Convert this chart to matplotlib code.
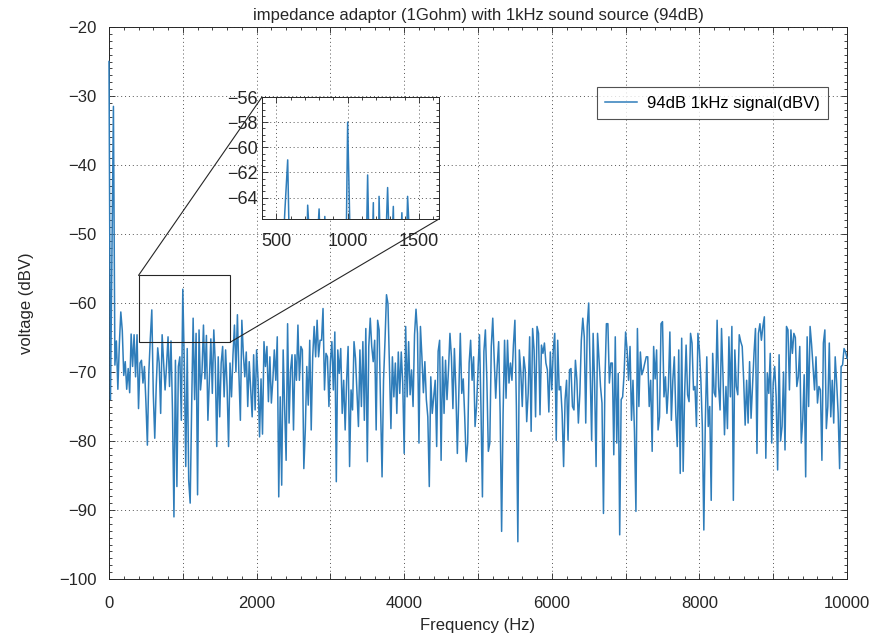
import numpy as np
import matplotlib
matplotlib.use("Agg")
import matplotlib.pyplot as plt
from matplotlib.patches import Rectangle, ConnectionPatch
from matplotlib.ticker import MultipleLocator, FuncFormatter

plt.rcParams['font.family'] = ['Liberation Sans', 'DejaVu Sans']

# frequency grid step (Hz) and spectrum values (dBV)
freq_start = 0
freq_step = 20
level_dbv = [
    # 0 - 980 Hz
    -25, -74, -52, -31.5, -69, -65.5, -72.5, -66, -61.3, -64,
    -70.5, -68.5, -72.5, -69.5, -73, -64.5, -69.2, -64.6, -70.7, -64.6,
    -75.3, -68.7, -68.3, -71.6, -69.2, -74.3, -80.6, -70, -65.1, -61,
    -73.1, -79.6, -72, -66.5, -68.7, -76, -64.6, -68.7, -72.6, -69,
    -64.9, -72.1, -65.5, -75.5, -91, -68.3, -86.6, -69.2, -67.8, -77,
    # 1000 - 1980 Hz
    -58, -68.7, -83.7, -66.6, -85.7, -89, -75, -62.2, -74, -64.4,
    -87.8, -63.9, -72.6, -70, -63.2, -71, -64.7, -77, -71.2, -65.2,
    -73.1, -63.9, -68.7, -80.8, -67.8, -76.5, -68.7, -66.3, -73.6, -66.8,
    -72.1, -80.8, -68.7, -73.6, -67.5, -63.2, -70, -61.7, -70.2, -77,
    -62.5, -67.3, -70.7, -67.1, -75, -68.5, -72.6, -76.5, -67.5, -75.5,
    # 2000 - 2980 Hz
    -66.8, -71.2, -79.4, -71, -79, -65.6, -69.2, -66.3, -74.3, -67.8,
    -74.5, -71.2, -66.8, -71.2, -64.9, -88.1, -73.6, -86.4, -66.8, -75.3,
    -82.8, -63, -77.4, -69.7, -67.5, -78.4, -67.5, -71.2, -63.2, -71.2,
    -66.3, -66.8, -84, -78.4, -69.2, -74.8, -65.4, -78.4, -67.8, -63.4,
    -67.8, -62.5, -67.8, -65.4, -65.4, -60.8, -72.6, -67.3, -67.8, -75,
    # 3000 - 3980 Hz
    -68.5, -65.6, -72.6, -64.2, -85.9, -66.8, -70.2, -66.6, -76, -71.2,
    -78.4, -71.2, -66.3, -83.7, -72.6, -75.5, -65.6, -68, -73.1, -77.9,
    -66.8, -75, -65.6, -77, -63.7, -83, -66.3, -62.2, -66.3, -68.5,
    -65.4, -78.4, -62.5, -63.9, -75, -85.2, -71.2, -65.4, -58.8, -60.1,
    -69.5, -78.2, -67.8, -73.6, -68.7, -76, -67.1, -73.1, -67.1, -71.6,
    # 4000 - 4980 Hz
    -81.8, -63.4, -73.6, -65.6, -73.3, -69.7, -75, -64.6, -60.9, -64.4,
    -80.3, -63.4, -67.8, -73, -68.5, -74, -76.5, -86.6, -70.7, -76,
    -73.6, -71.2, -80.8, -67, -65.4, -82.8, -67.8, -76, -68.3, -74,
    -69.7, -64.4, -67.8, -75.3, -66.6, -72.6, -81.8, -73.1, -64.4, -73.1,
    -71, -76.5, -83, -80.3, -68.7, -65.4, -71.2, -67.8, -77.9, -75,
    # 5000 - 5980 Hz
    -69.7, -64.6, -75, -88.1, -67, -63.9, -71.2, -81.5, -80.3, -66.3,
    -62.2, -68.3, -73.8, -69.2, -65.6, -76, -93.1, -76, -65.4, -73.8,
    -65.4, -71.6, -68.7, -71.2, -66.1, -62.5, -75, -94.6, -66.8, -70,
    -75, -67.8, -69.7, -77.2, -73.1, -64.9, -78.6, -63.7, -66.8, -76.5,
    -63.4, -64.4, -76.2, -66.1, -67.3, -65.8, -68.7, -69.7, -75.8, -67.1,
    # 6000 - 6980 Hz
    -72.6, -66.8, -64.4, -79.9, -65.4, -72.6, -72.1, -76, -83.7, -74,
    -71.2, -79.9, -69.7, -69.5, -75, -75.5, -68.3, -71.2, -77.4, -73.1,
    -65.4, -62.2, -64.9, -77.4, -63.4, -60, -70.2, -79.9, -64.4, -71.6,
    -83.7, -64.4, -68.3, -72.1, -74.5, -90.5, -71.2, -63, -63, -71.6,
    -68.7, -68.7, -82, -64.9, -80.3, -70.2, -93.6, -74, -73.6, -70.2,
    # 7000 - 7980 Hz
    -64.2, -66.8, -71.2, -66.3, -77, -71.2, -78.6, -90.2, -63.7, -75,
    -67.1, -70.4, -69.7, -68.7, -67.8, -67.8, -75, -71.2, -81.5, -66.3,
    -71, -66.8, -78.4, -76.5, -63, -62.7, -73.6, -70.7, -76, -72.1,
    -64.2, -77, -71.2, -67.8, -76, -80.8, -66.8, -84.7, -65.1, -84.4,
    -73.1, -66.1, -73.3, -74.3, -64.4, -65.8, -72.6, -72.1, -77.9, -64.4,
    # 8000 - 8980 Hz
    -66.8, -71.2, -78, -92.9, -77.4, -67.8, -77.9, -75, -88.6, -67.3,
    -73, -73.6, -62.5, -72.1, -75.5, -63.7, -70.7, -79.1, -72.1, -78.2,
    -64.9, -73.6, -63.4, -88.6, -66.8, -72.1, -73.3, -64.6, -65.6, -66.3,
    -71.2, -77.7, -71.2, -77.4, -68.5, -76.7, -72, -67.3, -63.7, -81.8,
    -64.4, -63, -65.4, -63.4, -62, -82.5, -70.2, -73.1, -67.3, -80.3,
    # 9000 - 10000 Hz
    -71.6, -69.2, -73.6, -84.2, -67.5, -80, -77.9, -70, -81.3, -63.4,
    -63.9, -72.6, -63.9, -67.3, -64.4, -65, -72.1, -70.7, -66.3, -80.3,
    -77, -70.4, -85.2, -64.9, -75, -63.4, -66, -69.2, -72.6, -67.8,
    -74.5, -72.1, -72.6, -82.8, -65.8, -63.9, -78.2, -75, -65.8, -76.5,
    -71.2, -77.4, -67.8, -71.6, -76, -84, -69.2, -69, -66.6, -67.1,
    -68,
]
series_label = '94dB 1kHz signal(dBV)'
title_text = 'impedance adaptor (1Gohm) with 1kHz sound source (94dB)'
x_label = 'Frequency (Hz)'
y_label = 'voltage (dBV)'
zoom_x = [400, 1640]
zoom_y = [-65.7, -56]

freq = freq_start + freq_step * np.arange(len(level_dbv))
level = np.array(level_dbv)

line_color = '#2f7dba'
ink = '#262626'

fig = plt.figure(figsize=(8.7, 6.36), dpi=100)
ax = fig.add_axes([109/870, 57/636, 738/870, 552/636])
ax.plot(freq, level, color=line_color, lw=1.1, label=series_label, zorder=3, clip_on=False)
ax.set_xlim(0, 10000)
ax.set_ylim(-100, -20)

def minus_fmt(v, p):
    iv = int(round(v))
    return f'\u2212{abs(iv)}' if iv < 0 else f'{iv}'

def style_axes(a, fs, xpad, ypad):
    a.tick_params(which='both', direction='in', top=True, right=True, labelsize=fs, colors=ink, width=0.6)
    a.tick_params(which='major', length=4)
    a.tick_params(which='minor', length=2)
    a.tick_params(axis='x', which='major', pad=xpad)
    a.tick_params(axis='y', which='major', pad=ypad)
    for s in a.spines.values():
        s.set_linewidth(0.7)
        s.set_color(ink)
    a.grid(True, which='major', linestyle=(0, (1, 3)), color='#555555', linewidth=0.7)

ax.xaxis.set_major_locator(MultipleLocator(1000))
ax.xaxis.set_minor_locator(MultipleLocator(200))
ax.xaxis.set_major_formatter(FuncFormatter(lambda v, p: f'{int(v)}' if int(round(v)) % 2000 == 0 else ''))
ax.yaxis.set_major_locator(MultipleLocator(10))
ax.yaxis.set_minor_locator(MultipleLocator(1))
ax.yaxis.set_major_formatter(FuncFormatter(minus_fmt))
style_axes(ax, 12, 12, 9)

ax.set_title(title_text, fontsize=12, pad=5, color=ink)
ax.set_xlabel(x_label, fontsize=12, color=ink, labelpad=5)
ax.set_ylabel(y_label, fontsize=12, color=ink, labelpad=18)

leg = ax.legend(loc='upper right', bbox_to_anchor=(0.9745, 0.891), fontsize=12, frameon=True,
                fancybox=False, edgecolor=ink, handlelength=1.9, borderpad=0.5,
                handletextpad=0.6, borderaxespad=0)
leg.get_frame().set_linewidth(0.8)

# zoom rectangle on main axes
rect = Rectangle((zoom_x[0], zoom_y[0]), zoom_x[1] - zoom_x[0], zoom_y[1] - zoom_y[0],
                 fill=False, edgecolor=ink, linewidth=0.8, zorder=5)
ax.add_patch(rect)

# inset
axin = fig.add_axes([262/870, (636-219)/636, 177/870, 122/636])
axin.plot(freq, level, color=line_color, lw=1.1)
axin.set_xlim(*zoom_x)
axin.set_ylim(*zoom_y)
axin.xaxis.set_major_locator(MultipleLocator(500))
axin.xaxis.set_minor_locator(MultipleLocator(100))
axin.yaxis.set_major_locator(MultipleLocator(2))
axin.yaxis.set_minor_locator(MultipleLocator(0.5))
axin.yaxis.set_major_formatter(FuncFormatter(minus_fmt))
style_axes(axin, 13, 10, 3)

for xa, ya in [(zoom_x[0], zoom_y[1]), (zoom_x[1], zoom_y[0])]:
    cp = ConnectionPatch(xyA=(xa, ya), coordsA=ax.transData,
                         xyB=(xa, ya), coordsB=axin.transData,
                         color=ink, linewidth=0.8)
    fig.add_artist(cp)

fig.savefig('out.png', dpi=100)
